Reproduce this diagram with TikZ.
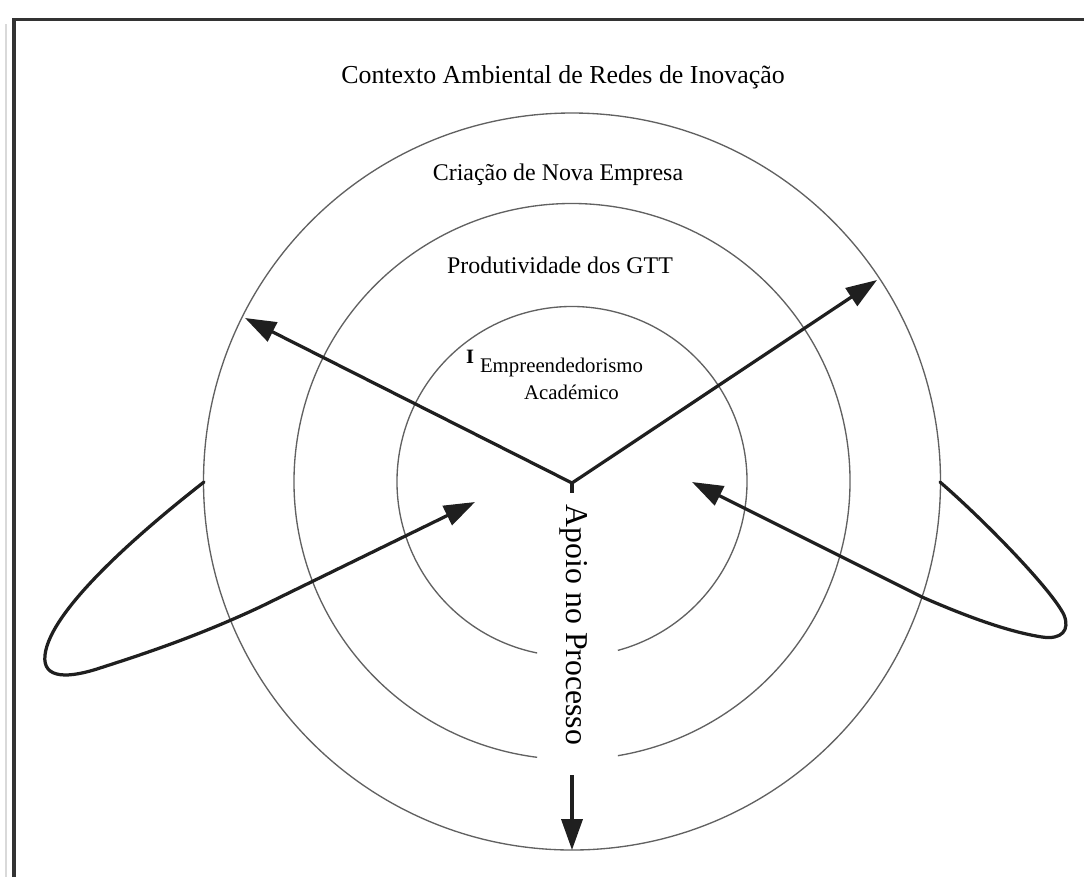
\documentclass[tikz,border=0pt]{standalone}
\usepackage{fontspec}
\setmainfont{Liberation Serif}
\usetikzlibrary{arrows.meta}
\begin{document}
\begin{tikzpicture}[x=0.025cm, y=-0.025cm,
  ring/.style={line width=0.95pt, black!62},
  flow/.style={line width=2.3pt, black!88},
  head/.tip={Triangle[length=22pt, width=15pt]},
  lbl/.style={inner sep=0pt, anchor=base, text=black},
]
\useasboundingbox (0,0) rectangle (1084,877);

% outer frame
\draw[black!15, line width=0.8pt] (6,24) -- (6,877);
\draw[black!80, line width=2.6pt] (14,877) -- (14,19.5) -- (1084,19.5);

% concentric rings
\coordinate (c) at (572,481.5);
\draw[ring] (c) circle[radius=368.5];
\draw[ring] (c) ++(97.2:278) arc[start angle=97.2, end angle=440.5, radius=278];
\draw[ring] (c) ++(101.5:175) arc[start angle=101.5, end angle=434.8, radius=175];

% connector end points
\coordinate (hub) at (572,483);
\coordinate (stem) at (572,493);
\coordinate (nw) at (245,318);
\coordinate (ne) at (877,280);
\coordinate (downS) at (572,775);
\coordinate (downE) at (572,850);
\coordinate (wS) at (204,482);
\coordinate (wE) at (475,502);
\coordinate (eS) at (940,482);
\coordinate (eE) at (692,482);

% outward V arrows
\draw[flow, miter limit=20, {head}-{head}] (nw) -- (hub) -- (ne);
\draw[flow] (hub) -- (stem);

% downward arrow
\draw[flow, -{head}] (downS) -- (downE);

% feedback loops from the outer ring back to the centre
\draw[flow, line cap=round, -{head}] (wS) .. controls (140,532) and (50,610) .. (45,655)
  .. controls (42,680) and (70,678) .. (100,668)
  .. controls (150,652) and (200,635) .. (260,607) -- (wE);
\draw[flow, line cap=round, -{head}] (eS) .. controls (985,521) and (1052,590) .. (1064,615)
  .. controls (1070,630) and (1062,640) .. (1042,637)
  .. controls (1010,632) and (970,618) .. (922,597) -- (eE);

% labels
\node[lbl, font=\fontsize{18.4}{22}\selectfont] (ctx) at (563,83) {Contexto Ambiental de Redes de Inovação};
\node[lbl, font=\fontsize{17}{20}\selectfont] (emp) at (558,180) {Criação de Nova Empresa};
\node[lbl, font=\fontsize{17}{20}\selectfont] (gtt) at (560,273) {Produtividade dos GTT};
\node[lbl, font=\fontsize{14.5}{17}\selectfont\bfseries] (mark) at (470,363) {I};
\node[lbl, font=\fontsize{14.8}{17}\selectfont] (ea1) at (561.5,372) {Empreendedorismo};
\node[lbl, font=\fontsize{14.8}{17}\selectfont] (ea2) at (571.5,399) {Académico};
\node[inner sep=0pt, rotate=-90, font=\fontsize{22.6}{26}\selectfont] (apo) at (574,625) {Apoio no Processo};
\end{tikzpicture}
\end{document}
